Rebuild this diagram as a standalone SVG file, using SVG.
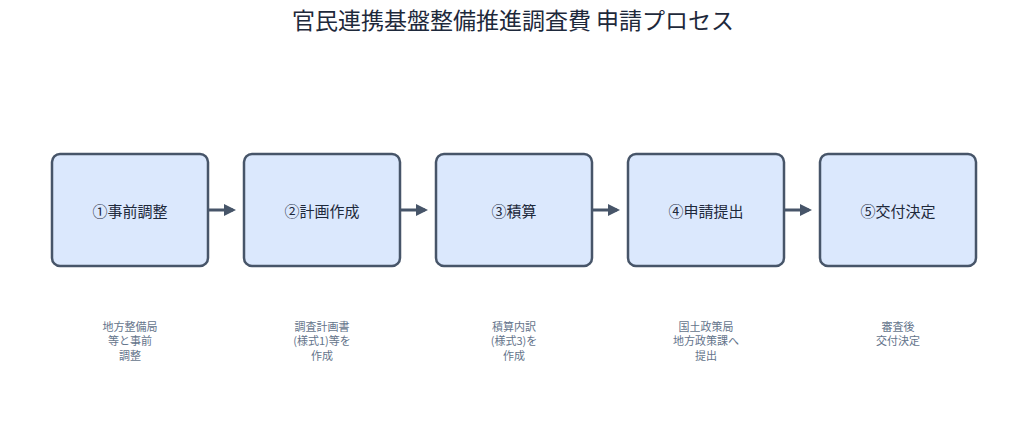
<svg xmlns="http://www.w3.org/2000/svg" width="1027" height="432" viewBox="0 0 1027 432">
<style>
text{font-family:"Noto Sans CJK JP","Noto Sans",sans-serif}
.box{fill:#dbe8fd;stroke:#475569;stroke-width:2.5}
.lbl{font-size:15px;fill:#1e293b;text-anchor:middle;dominant-baseline:central}
.sub{font-size:11px;fill:#64748b;text-anchor:middle}
.c{stroke:#475569;stroke-width:3;fill:none;marker-end:url(#ah)}
</style>
<defs><marker id="ah" markerWidth="4" markerHeight="4" refX="3" refY="2" orient="auto"><path d="M0,0L4,2L0,4z" fill="#475569"/></marker></defs>
<rect width="1027" height="432" fill="#fff"/>
<text x="513" y="29" font-size="23" fill="#1e293b" text-anchor="middle">官民連携基盤整備推進調査費 申請プロセス</text>
<g id="n1"><rect class="box" x="52" y="154" width="156" height="112" rx="8"/><text class="lbl" x="130" y="210">①事前調整</text><text class="sub" x="130" y="331">地方整備局</text><text class="sub" x="130" y="345">等と事前</text><text class="sub" x="130" y="360">調整</text></g>
<g id="n2"><rect class="box" x="244" y="154" width="156" height="112" rx="8"/><text class="lbl" x="322" y="210">②計画作成</text><text class="sub" x="322" y="331">調査計画書</text><text class="sub" x="322" y="345">(様式1)等を</text><text class="sub" x="322" y="360">作成</text></g>
<g id="n3"><rect class="box" x="436" y="154" width="156" height="112" rx="8"/><text class="lbl" x="514" y="210">③積算</text><text class="sub" x="514" y="331">積算内訳</text><text class="sub" x="514" y="345">(様式3)を</text><text class="sub" x="514" y="360">作成</text></g>
<g id="n4"><rect class="box" x="628" y="154" width="156" height="112" rx="8"/><text class="lbl" x="706" y="210">④申請提出</text><text class="sub" x="706" y="331">国土政策局</text><text class="sub" x="706" y="345">地方政策課へ</text><text class="sub" x="706" y="360">提出</text></g>
<g id="n5"><rect class="box" x="820" y="154" width="156" height="112" rx="8"/><text class="lbl" x="898" y="210">⑤交付決定</text><text class="sub" x="898" y="331">審査後</text><text class="sub" x="898" y="345">交付決定</text></g>
<g id="connectors">
<path class="c" d="M209,210H233"/><path class="c" d="M401,210H425"/><path class="c" d="M593,210H617"/><path class="c" d="M785,210H809"/>
</g>
</svg>
